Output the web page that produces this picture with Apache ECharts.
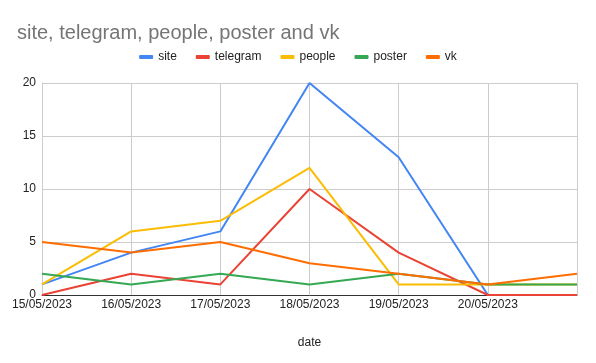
<!DOCTYPE html>
<html><head><meta charset="utf-8">
<script src="https://cdn.jsdelivr.net/npm/echarts@6/dist/echarts.min.js"></script>
<style>html,body{margin:0;padding:0;background:#fff}#c{width:596px;height:363px}</style>
</head><body><div id="c"></div>
<script>
const categories = ['15/05/2023','16/05/2023','17/05/2023','18/05/2023','19/05/2023','20/05/2023','21/05/2023'];
const site = [1, 4, 6, 20, 13, 0, 0];
const telegram = [0, 2, 1, 10, 4, 0, 0];
const people = [1, 6, 7, 12, 1, 1, 1];
const poster = [2, 1, 2, 1, 2, 1, 1];
const vk = [5, 4, 5, 3, 2, 1, 2];
const yTicks = [0, 5, 10, 15, 20];

const names = ['site','telegram','people','poster','vk'];
const values = [site, telegram, people, poster, vk];
const colors = ['#4285F4','#EA4335','#FBBC04','#34A853','#FF6D01'];
const FF = '"Liberation Sans", Arial, sans-serif';

const chart = echarts.init(document.getElementById('c'), null, {renderer:'canvas'});
chart.setOption({
  animation: false,
  backgroundColor: '#fff',
  title: {text: 'site, telegram, people, poster and vk', left: 12, top: 18,
    textStyle: {fontFamily: FF, fontSize: 20, fontWeight: 'normal', color: '#757575'}},
  legend: {top: 46, left: 'center', itemGap: 19, itemWidth: 14, itemHeight: 4, icon: 'roundRect',
    textStyle: {fontFamily: FF, fontSize: 12, color: '#222'},
    data: names},
  grid: {left: 42, right: 19, top: 83, bottom: 68, containLabel: false},
  xAxis: {type: 'category', data: categories, boundaryGap: false,
    name: 'date', nameLocation: 'middle', nameGap: 42,
    nameTextStyle: {fontFamily: FF, fontSize: 12, color: '#222'},
    axisLine: {lineStyle: {color: '#333', width: 1}},
    axisTick: {show: false},
    splitLine: {show: true, lineStyle: {color: '#ccc'}},
    axisLabel: {interval: 0, margin: 4, fontFamily: FF, fontSize: 12, color: '#222',
      formatter: (v, i) => i === categories.length - 1 ? '' : v}},
  yAxis: {type: 'value', min: yTicks[0], max: yTicks[yTicks.length-1], interval: 5,
    axisLine: {show: true, lineStyle: {color: '#ccc'}},
    axisTick: {show: false},
    splitLine: {lineStyle: {color: '#ccc'}},
    axisLabel: {margin: 6, fontFamily: FF, fontSize: 12, color: '#222'}},
  series: names.map((n, i) => ({
    name: n, type: 'line', data: values[i], color: colors[i],
    showSymbol: false, symbol: 'none', lineStyle: {width: 2, color: colors[i]}
  }))
});
</script></body></html>
